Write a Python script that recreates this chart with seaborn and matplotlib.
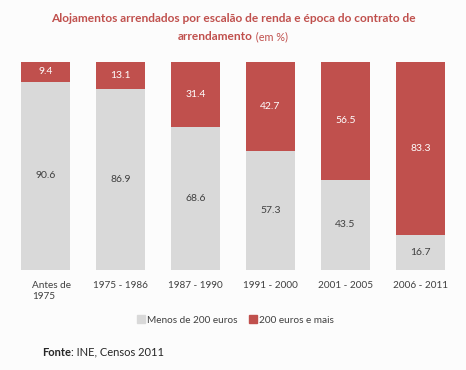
import numpy as np
import pandas as pd
import seaborn as sns
from matplotlib import pyplot as plt
from matplotlib import transforms
from matplotlib.patches import Patch

sns.set_style("white")
plt.rcParams["font.family"] = ["Lato", "DejaVu Sans"]

periods = ["Antes de\n1975", "1975 - 1986", "1987 - 1990", "1991 - 2000", "2001 - 2005", "2006 - 2011"]
menos_200 = [90.6, 86.9, 68.6, 57.3, 43.5, 16.7]
mais_200 = [9.4, 13.1, 31.4, 42.7, 56.5, 83.3]

GRAY = "#d9d9d9"
RED = "#c0504d"
BG = "#fcfcfc"

df = pd.DataFrame({"periodo": periods, "menos": menos_200, "mais": mais_200})
df["total"] = df["menos"] + df["mais"]

fig = plt.figure(figsize=(4.66, 3.70), dpi=100, facecolor=BG)
ax = fig.add_axes([8 / 466, 100 / 370, 450 / 466, 208 / 370])
ax.set_facecolor(BG)

# Stacked bars: full height in red, bottom part in gray over it
sns.barplot(data=df, x="periodo", y="total", color=RED, saturation=1, width=0.665,
            linewidth=0, ax=ax)
sns.barplot(data=df, x="periodo", y="menos", color=GRAY, saturation=1, width=0.665,
            linewidth=0, ax=ax)

for i, (g, r) in enumerate(zip(menos_200, mais_200)):
    ax.text(i, g / 2, f"{g:.1f}", ha="center", va="center", fontsize=7.5, color="#404040")
    ax.text(i, g + r / 2, f"{r:.1f}", ha="center", va="center", fontsize=7.5, color="white")

ax.set_ylim(0, 100)
ax.set_xlim(-0.5, 5.5)
ax.set_yticks([])
ax.set_xlabel("")
ax.set_ylabel("")
ax.tick_params(axis="x", length=0, pad=8, labelsize=7.2, labelcolor="#404040")
for lbl in ax.get_xticklabels():
    lbl.set_multialignment("left")
    if "Antes" in lbl.get_text():
        # the wrapped label sits a bit right of the bar centre in the original
        lbl.set_transform(lbl.get_transform() + transforms.ScaledTranslation(6 / 100, 0, fig.dpi_scale_trans))
sns.despine(ax=ax, left=True, bottom=True)

renderer = fig.canvas.get_renderer()

fig.text(0.5, 1 - 19 / 370, "Alojamentos arrendados por escalão de renda e época do contrato de",
         ha="center", va="center", fontsize=8.6, fontweight="bold", color=RED)
t1 = fig.text(0, 1 - 37 / 370, "arrendamento", ha="left", va="center", fontsize=8.6,
              fontweight="bold", color=RED)
t2 = fig.text(0, 1 - 37 / 370, " (em %)", ha="left", va="center", fontsize=7.8, color=RED)
w1 = t1.get_window_extent(renderer).width / fig.bbox.width
w2 = t2.get_window_extent(renderer).width / fig.bbox.width
start = 0.5 - (w1 + w2) / 2
t1.set_x(start)
t2.set_x(start + w1)

handles = [Patch(color=GRAY, label="Menos de 200 euros"), Patch(color=RED, label="200 euros e mais")]
fig.legend(handles=handles, loc="center", bbox_to_anchor=(0.505, 1 - 320 / 370), ncol=2,
           frameon=False, fontsize=7.2, handlelength=0.8, handleheight=0.8,
           handletextpad=0.15, columnspacing=1.2, labelcolor="#404040")

f1 = fig.text(42 / 466, 1 - 352 / 370, "Fonte", fontsize=8, fontweight="bold",
              va="center", ha="left")
wf = f1.get_window_extent(renderer).width / fig.bbox.width
fig.text(42 / 466 + wf, 1 - 352 / 370, ": INE, Censos 2011", fontsize=8, va="center", ha="left")

fig.savefig("out.png", dpi=100, facecolor=BG)
